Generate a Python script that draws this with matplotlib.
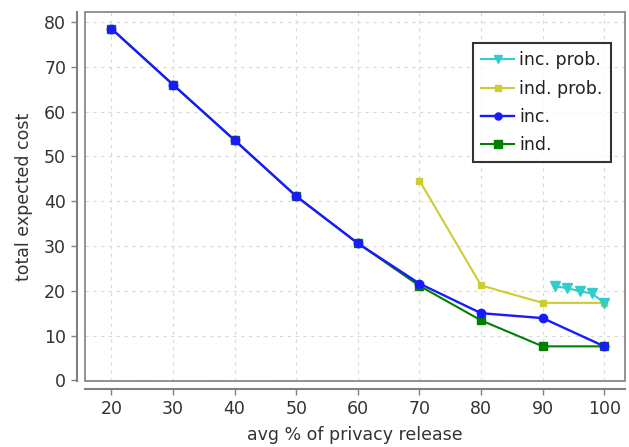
import matplotlib
matplotlib.use("Agg")
import matplotlib.pyplot as plt
from matplotlib.patches import Rectangle

# data
x_main = [20, 30, 40, 50, 60, 70, 80, 90, 100]
ind = [78.5, 66.0, 53.6, 41.1, 30.6, 21.1, 13.4, 7.6, 7.6]
inc = [78.5, 66.0, 53.6, 41.1, 30.6, 21.6, 15.0, 13.9, 7.6]
x_ind_prob = [70, 80, 90, 100]
ind_prob = [44.6, 21.2, 17.3, 17.3]
x_inc_prob = [92, 94, 96, 98, 100]
inc_prob = [21.0, 20.6, 19.9, 19.4, 17.3]

x_ticks = [20, 30, 40, 50, 60, 70, 80, 90, 100]
y_ticks = [0, 10, 20, 30, 40, 50, 60, 70, 80]

TEXT = "#333333"
AXIS = "#808080"

fig = plt.figure(figsize=(6.29, 4.47), dpi=100)
ax = fig.add_axes([0.135, 0.148, 0.859, 0.825])

ax.plot(x_main, ind, color="#008000", lw=1.5, marker="s", ms=6, label="ind.", zorder=3)
ax.plot(x_main, inc, color="#1a1aff", lw=1.7, marker="o", ms=6, label="inc.", zorder=4)
ax.plot(x_ind_prob, ind_prob, color="#cccc33", lw=1.5, marker="s", ms=4.5, label="ind. prob.", zorder=3)
ax.plot(x_inc_prob, inc_prob, color="#33cccc", lw=1.5, marker="v", ms=6.5, label="inc. prob.", zorder=3)

ax.set_xlim(15.7, 103.4)
ax.set_ylim(-0.1, 82.2)
ax.set_xticks(x_ticks)
ax.set_yticks(y_ticks)
ax.grid(True, color="#d9d9d9", ls=(0, (3, 4)), lw=0.8)
ax.set_axisbelow(True)

# plot outline, axis lines pushed outward like the reference
for side in ("top", "right"):
    ax.spines[side].set_visible(False)
for side in ("left", "bottom"):
    ax.spines[side].set_position(("outward", 6))
    ax.spines[side].set_color(AXIS)
    ax.spines[side].set_linewidth(1.5)
ax.add_patch(Rectangle((0, 0), 1, 1, transform=ax.transAxes, fill=False,
                       edgecolor=AXIS, lw=1.2, clip_on=False, zorder=5))

ax.tick_params(colors=AXIS, labelcolor=TEXT, labelsize=12.5, length=4, width=1)
ax.set_xlabel("avg % of privacy release", fontsize=12.5, color=TEXT, labelpad=6)
ax.set_ylabel("total expected cost", fontsize=12.5, color=TEXT, labelpad=8)

handles, labels = ax.get_legend_handles_labels()
order = [3, 2, 1, 0]
leg = ax.legend([handles[i] for i in order], [labels[i] for i in order],
                loc="upper right", bbox_to_anchor=(0.973, 0.915), fontsize=12.5,
                frameon=True, fancybox=False, handlelength=1.9, handletextpad=0.3,
                borderpad=0.45, labelspacing=0.6, markerscale=0.85,
                borderaxespad=0)
leg.get_frame().set_edgecolor("black")
leg.get_frame().set_linewidth(1.5)
for t in leg.get_texts():
    t.set_color("#222222")

fig.savefig("out.png", dpi=100)
